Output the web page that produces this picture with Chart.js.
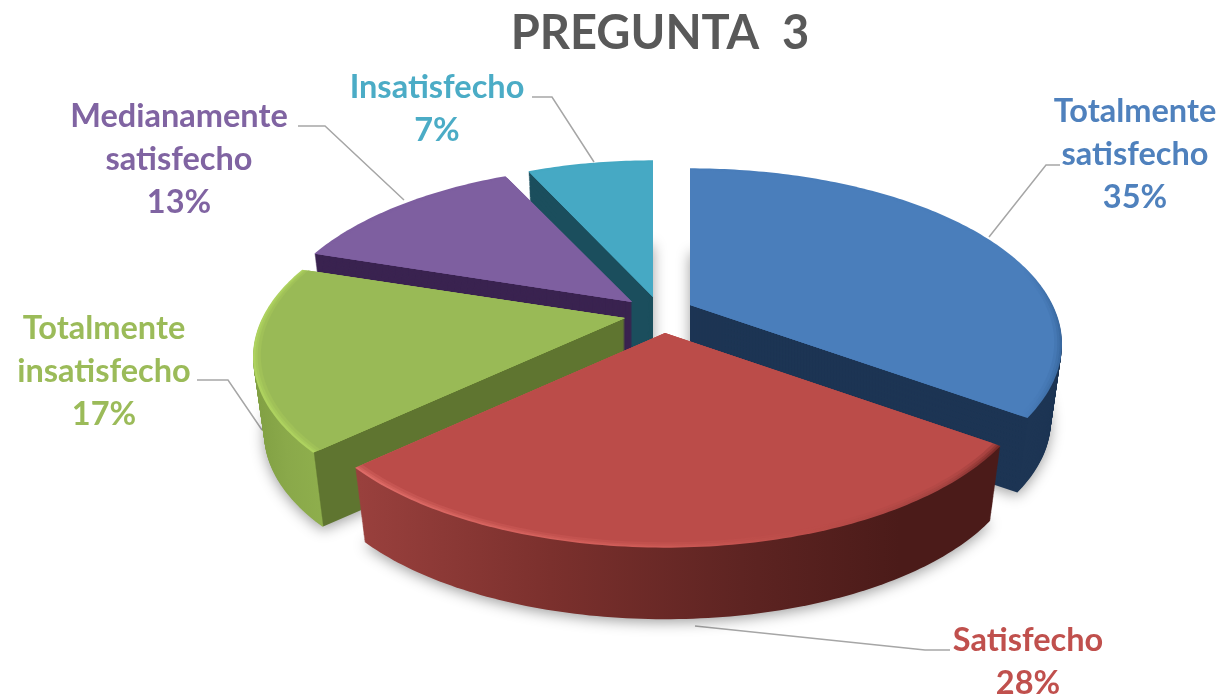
<!DOCTYPE html>
<html>
<head>
<meta charset="utf-8">
<script src="https://cdn.jsdelivr.net/npm/chart.js@4/dist/chart.umd.min.js"></script>
<style>
html,body{margin:0;padding:0;background:#fff}
#wrap{width:1224px;height:696px;overflow:hidden}
canvas{display:block;filter:blur(0.7px)}
</style>
</head>
<body>
<div id="wrap"><canvas id="c" width="1224" height="696"></canvas></div>
<script>
const chartTitle = 'PREGUNTA  3';
const categories = ['Totalmente satisfecho', 'Satisfecho', 'Totalmente insatisfecho', 'Medianamente satisfecho', 'Insatisfecho'];
const values = [35, 28, 17, 13, 7];

// Appearance, separate from the data
const labelLines = [['Totalmente', 'satisfecho'], ['Satisfecho'], ['Totalmente', 'insatisfecho'], ['Medianamente', 'satisfecho'], ['Insatisfecho']];
const labelColors = ['#4f81bd', '#c0504d', '#9bbb59', '#8064a2', '#4bacc6'];
const labelCenters = [[1135, 112], [1028, 641], [104, 329], [179, 117], [437, 88]];
const leaders = [
  [[1060, 165], [1046, 165], [989, 237]],
  [[950, 650], [925, 650], [695, 626]],
  [[197, 380], [228, 380], [262, 430]],
  [[298, 126], [325, 126], [404, 200]],
  [[532, 97], [552, 97], [594, 162]]
];
const topColors = ['#4a7ebb', '#bb4c49', '#99ba56', '#7e5fa0', '#46a9c4'];
const apexes = [[690, 305], [665, 333], [625, 318], [632, 302], [653, 297]];
const widthFactors = [1.016, 1.01, 1.016, 1.0, 0.985];
const drawOrder = [4, 3, 0, 2, 1];
const LINE_H = 43, DEPTH = 78, SX = 357, SY = 167, PERSP = 0.222, TAPER = 0.03;

function projector(el, i, k, radial) {
  const [ax, ay] = apexes[i];
  const t = k / DEPTH, sc = 1 - TAPER * t;
  const R = el.outerRadius;
  return (px, py) => {
    const X = (px - el.x) / R * radial, Y = (py - el.y) / R * radial;
    const w = 1 - PERSP * Y;
    return [ax + sc * SX * widthFactors[i] * X / w, ay + sc * SY * Y / w + k];
  };
}
function projectingContext(real, map) {
  const o = {
    translate() {},
    moveTo(x, y) { const p = map(x, y); real.moveTo(p[0], p[1]); },
    lineTo(x, y) { const p = map(x, y); real.lineTo(p[0], p[1]); },
    arc(x, y, r, a0, a1, ccw) {
      let d = a1 - a0;
      if (ccw && d > 0) d -= 2 * Math.PI;
      if (!ccw && d < 0) d += 2 * Math.PI;
      const n = Math.max(2, Math.ceil(Math.abs(d) * 60));
      for (let s = 0; s <= n; s++) {
        const a = a0 + d * s / n;
        const p = map(x + r * Math.cos(a), y + r * Math.sin(a));
        real.lineTo(p[0], p[1]);
      }
    }
  };
  return new Proxy(real, {
    get(t, prop) {
      if (prop in o) return o[prop];
      const v = t[prop];
      return typeof v === 'function' ? v.bind(t) : v;
    },
    set(t, prop, v) { t[prop] = v; return true; }
  });
}
function horizontal(ctx, x0, x1, stops) {
  const g = ctx.createLinearGradient(x0, 0, x1, 0);
  stops.forEach(s => g.addColorStop(s[0], s[1]));
  return g;
}
function wallFill(ctx, i, el, k) {
  const map = projector(el, i, k, 1);
  const cornerAt = a => map(el.x + el.outerRadius * Math.cos(a), el.y + el.outerRadius * Math.sin(a));
  if (i === 0) return '#1d3554';
  if (i === 1) return horizontal(ctx, 360, 995, [[0, '#99403d'], [0.3, '#7b302d'], [0.6, '#5e2422'], [0.85, '#4b1b19'], [1, '#4b1b19']]);
  if (i === 2) {
    const cx = cornerAt(el.startAngle)[0];
    const f = (cx - 250) / 400;
    return horizontal(ctx, 250, 650, [[0, '#7f9e42'], [f * 0.55, '#8aa94a'], [f, '#8eae4c'], [f + 0.003, '#5f7530'], [1, '#5f7530']]);
  }
  if (i === 3) return '#3a2350';
  return '#1b4e5d';
}
function rimFill(ctx, i) {
  if (i === 0) return horizontal(ctx, 690, 1060, [[0, '#4a7ebb'], [0.9, '#4a7ebb'], [1, '#3a6aa2']]);
  if (i === 1) return horizontal(ctx, 358, 997, [[0, '#de6b67'], [0.45, '#cf5b57'], [0.72, '#bb4c49'], [0.92, '#a34240'], [1, '#7c2c2a']]);
  if (i === 2) return horizontal(ctx, 255, 340, [[0, '#aed25f'], [1, '#aed25f']]);
  return topColors[i];
}
function drawSlice(chart, el, i, fill, k, radial, shadow, alpha) {
  const ctx = chart.ctx, saved = el.options;
  const opts = Object.create(saved);
  opts.backgroundColor = fill;
  opts.borderWidth = 0;
  opts.offset = 0;
  el.options = opts;
  ctx.save();
  if (alpha) ctx.globalAlpha = alpha;
  if (shadow) {
    ctx.shadowColor = 'rgba(0,0,0,0.38)';
    ctx.shadowBlur = 14;
    ctx.shadowOffsetY = 3;
  }
  el.draw(projectingContext(ctx, projector(el, i, k, radial)));
  ctx.restore();
  el.options = saved;
}
const pie3d = {
  id: 'pie3d',
  beforeDatasetsDraw(chart) {
    const ctx = chart.ctx, arcs = chart.getDatasetMeta(0).data;
    ctx.save();
    ctx.strokeStyle = '#a6a6a6';
    ctx.lineWidth = 1.5;
    leaders.forEach(l => {
      ctx.beginPath();
      l.forEach((p, n) => n ? ctx.lineTo(p[0], p[1]) : ctx.moveTo(p[0], p[1]));
      ctx.stroke();
    });
    ctx.restore();
    drawOrder.forEach(i => {
      const el = arcs[i];
      for (let k = DEPTH; k >= 1; k--) {
        drawSlice(chart, el, i, wallFill(ctx, i, el, k), k, 1, k === DEPTH);
      }
      drawSlice(chart, el, i, rimFill(ctx, i), 0, 1, false);
      drawSlice(chart, el, i, topColors[i], 0, 0.994, false, 0.35);
      drawSlice(chart, el, i, topColors[i], 0, 0.988, false, 0.5);
      drawSlice(chart, el, i, topColors[i], 0, 0.98, false);
    });
    return false;
  },
  afterDraw(chart) {
    const ctx = chart.ctx;
    ctx.save();
    ctx.textAlign = 'center';
    ctx.textBaseline = 'middle';
    ctx.font = 'bold 32.5px Lato';
    categories.forEach((c, i) => {
      const lines = labelLines[i].concat(values[i] + '%');
      ctx.fillStyle = labelColors[i];
      lines.forEach((t, n) => ctx.fillText(t, labelCenters[i][0], labelCenters[i][1] + n * LINE_H));
    });
    ctx.restore();
  }
};
new Chart(document.getElementById('c'), {
  type: 'pie',
  data: { labels: categories, datasets: [{ data: values, backgroundColor: topColors, borderWidth: 0 }] },
  options: {
    responsive: false,
    animation: false,
    layout: { padding: { left: 96, top: 6 } },
    plugins: {
      legend: { display: false },
      tooltip: { enabled: false },
      title: { display: true, text: chartTitle, color: '#595959', font: { family: 'Lato', size: 47, weight: 'bold' }, padding: 0 }
    }
  },
  plugins: [pie3d]
});
</script>
</body>
</html>
